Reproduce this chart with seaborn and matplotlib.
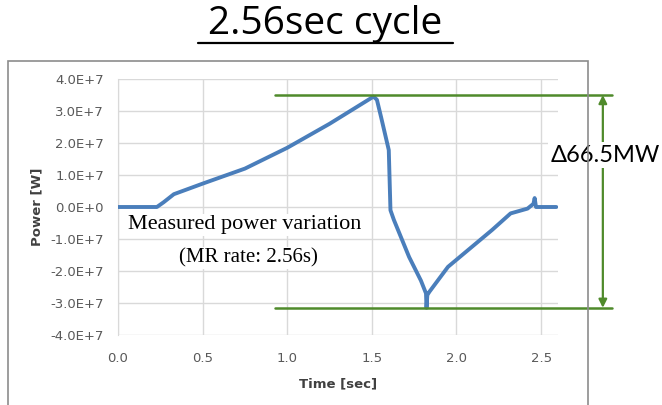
import numpy as np
import pandas as pd
import seaborn as sns
import matplotlib.pyplot as plt
from matplotlib.patches import Rectangle
from matplotlib.lines import Line2D

# power trace (time in sec, power in W)
time_s = [0.0, 0.23, 0.27, 0.33, 0.5, 0.75, 1.0, 1.25, 1.51, 1.53, 1.555, 1.6,
          1.61, 1.63, 1.72, 1.79, 1.82, 1.823, 1.828, 1.84, 1.95, 2.21, 2.32,
          2.42, 2.455, 2.462, 2.47, 2.59]
power_w = [0.0, 0.0, 1.5e6, 4.0e6, 7.3e6, 1.2e7, 1.85e7, 2.6e7, 3.45e7, 3.35e7,
           2.8e7, 1.78e7, -1.0e6, -4.0e6, -1.56e7, -2.3e7, -2.7e7, -3.15e7,
           -2.75e7, -2.65e7, -1.87e7, -7.2e6, -2.0e6, -5.0e5, 1.0e6, 2.8e6,
           0.0, 0.0]

y_ticks = [-4e7, -3e7, -2e7, -1e7, 0, 1e7, 2e7, 3e7, 4e7]
y_labels = ["-4.0E+7", "-3.0E+7", "-2.0E+7", "-1.0E+7", "0.0E+0",
            "1.0E+7", "2.0E+7", "3.0E+7", "4.0E+7"]
x_ticks = [0.0, 0.5, 1.0, 1.5, 2.0, 2.5]
x_labels = ["0.0", "0.5", "1.0", "1.5", "2.0", "2.5"]

p_max = 3.5e7
p_min = -3.15e7
delta_label = "\u039466.5MW"

df = pd.DataFrame({"Time": time_s, "Power": power_w})

sns.set_style("white")
plt.rcParams['font.family'] = ['DejaVu Sans']

fig = plt.figure(figsize=(6.62, 4.05), dpi=100)
ax = fig.add_axes([118 / 662, 1 - 335 / 405, 440 / 662, 256 / 405])

# outer chart frame
fig.add_artist(Rectangle((8 / 662, -0.05), 580 / 662, 1 - 61 / 405 + 0.05,
                         transform=fig.transFigure, fill=False,
                         edgecolor="#8c8c8c", linewidth=1.2))

sns.lineplot(data=df, x="Time", y="Power", ax=ax, color="#4a7ebb",
             linewidth=2.8, zorder=3)

ax.set_xlim(0, 2.6)
ax.set_ylim(-4e7, 4e7)
ax.set_yticks(y_ticks)
ax.set_yticklabels(y_labels)
ax.set_xticks(x_ticks)
ax.set_xticklabels(x_labels)
ax.grid(True, color="#d9d9d9", linewidth=1.0)
for s in ["top", "right", "bottom"]:
    ax.spines[s].set_visible(False)
ax.spines["left"].set_color("#d9d9d9")
ax.tick_params(axis="both", labelsize=9.5, colors="#595959", length=4,
               color="#d9d9d9", pad=6)
ax.tick_params(axis="x", pad=8)
ax.set_xlabel("Time [sec]", fontsize=9.5, fontweight="bold", color="#404040",
              labelpad=9)
ax.set_ylabel("Power [W]", fontsize=9.5, fontweight="bold", color="#404040",
              labelpad=5)

ax.text(0.75, -5.6e6, "Measured power variation", family="Liberation Serif",
        fontsize=16, ha="center", va="center", zorder=4, color="black",
        bbox=dict(facecolor="white", edgecolor="none", pad=1))
ax.text(0.77, -1.6e7, "(MR rate: 2.56s)", family="Liberation Serif",
        fontsize=15, ha="center", va="center", zorder=4, color="black",
        bbox=dict(facecolor="white", edgecolor="none", pad=1))

# green range markers
green = "#4f8a2b"
for p in [p_max, p_min]:
    ax.plot([0.93, 2.92], [p, p], color=green, linewidth=1.8,
            clip_on=False, zorder=5)
ax.annotate("", xy=(2.865, p_max), xytext=(2.865, p_min),
            arrowprops=dict(arrowstyle="<|-|>", color=green, lw=1.6,
                            mutation_scale=12, shrinkA=0, shrinkB=0),
            annotation_clip=False, zorder=5)
ax.text(2.88, 1.62e7, delta_label, family="Lato", fontsize=17,
        ha="center", va="center", zorder=6, clip_on=False, color="black",
        bbox=dict(facecolor="white", edgecolor="none", pad=2))

# title, underlined
fig.text(325.5 / 662, 1 - 34 / 405, "2.56sec cycle", family="Open Sans",
         fontsize=28, ha="center", va="baseline", color="black")
fig.add_artist(Line2D([198 / 662, 453 / 662], [1 - 43 / 405, 1 - 43 / 405],
                      color="black", linewidth=1.6))

fig.savefig("out.png", dpi=100)
